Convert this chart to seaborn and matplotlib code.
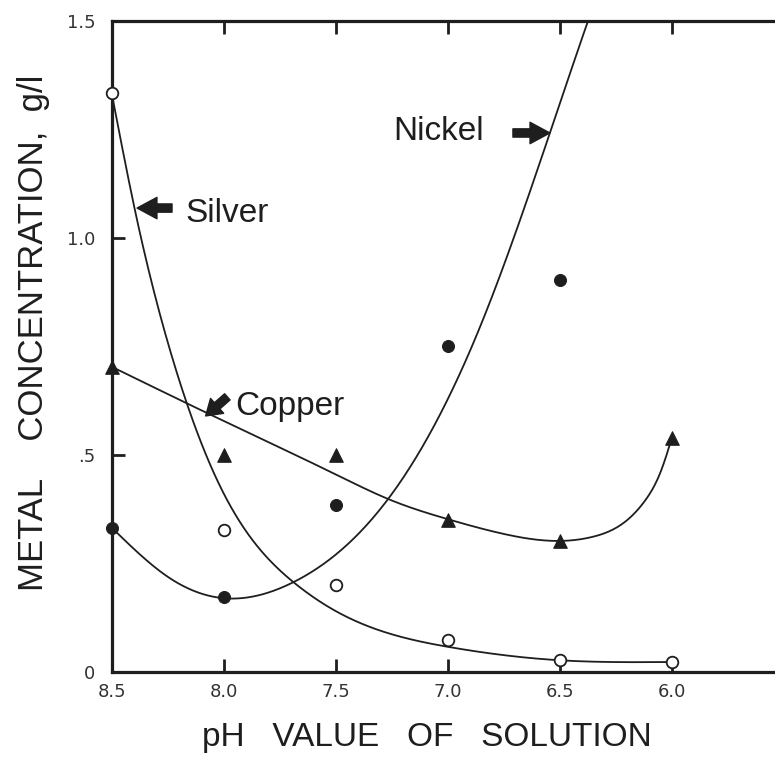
import numpy as np
import pandas as pd
import seaborn as sns
import matplotlib
matplotlib.use("Agg")
import matplotlib.pyplot as plt

# measured points (pH, g/l)
ph_pts = [8.5, 8.0, 7.5, 7.0, 6.5, 6.0]
silver_pts = [1.335, 0.327, 0.20, 0.074, 0.028, 0.023]
nickel_ph = [8.5, 8.0, 7.5, 7.0, 6.5]
nickel_pts = [0.332, 0.173, 0.385, 0.751, 0.903]
copper_pts = [0.703, 0.50, 0.50, 0.35, 0.302, 0.54]

# hand drawn curves
silver_curve_ph = [8.5, 8.4, 8.24, 8.0, 7.69, 7.5, 7.0, 6.5, 6.0]
silver_curve = [1.33, 1.07, 0.74, 0.41, 0.207, 0.14, 0.058, 0.027, 0.023]
nickel_curve_ph = [8.5, 8.25, 8.0, 7.69, 7.28, 6.857, 6.545, 6.375, 6.3]
nickel_curve = [0.332, 0.219, 0.17, 0.207, 0.39, 0.795, 1.242, 1.5, 1.61]
copper_curve_ph = [8.5, 8.0, 7.5, 7.25, 7.0, 6.75, 6.5, 6.35, 6.22, 6.12, 6.05, 6.0]
copper_curve = [0.703, 0.578, 0.455, 0.395, 0.352, 0.318, 0.302, 0.312, 0.342, 0.395, 0.462, 0.54]

x_ticks = [8.5, 8.0, 7.5, 7.0, 6.5, 6.0]
x_ticklabels = ["8.5", "8.0", "7.5", "7.0", "6.5", "6.0"]
y_ticks = [0, 0.5, 1.0, 1.5]
y_ticklabels = ["0", ".5", "1.0", "1.5"]


def spline(x, y, xn):
    # natural cubic spline through the traced knots
    x, y = np.asarray(x, float), np.asarray(y, float)
    o = np.argsort(x)
    x, y = x[o], y[o]
    n = len(x)
    h = np.diff(x)
    A = np.zeros((n, n))
    r = np.zeros(n)
    A[0, 0] = A[-1, -1] = 1
    for i in range(1, n - 1):
        A[i, i - 1], A[i, i], A[i, i + 1] = h[i - 1], 2 * (h[i - 1] + h[i]), h[i]
        r[i] = 3 * ((y[i + 1] - y[i]) / h[i] - (y[i] - y[i - 1]) / h[i - 1])
    c = np.linalg.solve(A, r)
    b = np.diff(y) / h - h * (2 * c[:-1] + c[1:]) / 3
    d = np.diff(c) / (3 * h)
    i = np.clip(np.searchsorted(x, xn) - 1, 0, n - 2)
    dx = xn - x[i]
    return y[i] + b[i] * dx + c[i] * dx**2 + d[i] * dx**3


def smooth(px, py):
    xs = np.linspace(min(px), max(px), 400)
    return pd.DataFrame({"ph": xs, "conc": spline(px, py, xs)})


sns.set_theme(style="ticks")
plt.rcParams["font.family"] = ["Liberation Sans", "DejaVu Sans"]

fig = plt.figure(figsize=(7.75, 7.57), dpi=100)
ax = fig.add_axes([112 / 775, 85 / 757, 676 / 775, 651 / 757])

ink = "#1e1e1e"
for px, py in [(silver_curve_ph, silver_curve), (nickel_curve_ph, nickel_curve),
               (copper_curve_ph, copper_curve)]:
    sns.lineplot(data=smooth(px, py), x="ph", y="conc", sort=False, color=ink,
                 lw=1.3, ax=ax)

sns.scatterplot(x=ph_pts, y=silver_pts, marker="o", s=70, facecolor="white",
                edgecolor=ink, linewidth=1.3, ax=ax, zorder=5, clip_on=False)
sns.scatterplot(x=nickel_ph, y=nickel_pts, marker="o", s=75, color=ink,
                edgecolor=ink, ax=ax, zorder=5, clip_on=False)
sns.scatterplot(x=ph_pts, y=copper_pts, marker="^", s=95, color=ink,
                edgecolor=ink, ax=ax, zorder=5, clip_on=False)

ax.set_xlim(8.5, 5.482)
ax.set_ylim(0, 1.5)

for s in ax.spines.values():
    s.set_linewidth(2.3)
    s.set_color(ink)
    s.set_zorder(1)

ax.set_xticks(x_ticks, x_ticklabels)
ax.set_yticks(y_ticks, y_ticklabels)
ax.tick_params(direction="in", length=9.5, width=2, color=ink, top=True, right=True,
               labelsize=13, labelcolor="#333333")
ax.tick_params(axis="x", pad=8)
ax.tick_params(axis="y", pad=12)
for lab in ax.get_xticklabels() + ax.get_yticklabels():
    lab.set_fontfamily("DejaVu Sans")

ax.set_xlabel("pH   VALUE   OF   SOLUTION", fontsize=24, color=ink)
ax.xaxis.set_label_coords((425 - 112) / 672, -0.077)
ax.set_ylabel("METAL    CONCENTRATION,  g/l", fontsize=25, color=ink)
ax.yaxis.set_label_coords(-0.092, (672 - 333) / 651)

arrow = dict(arrowstyle="simple,head_length=0.65,head_width=0.7,tail_width=0.27",
             fc=ink, ec=ink, mutation_scale=22, shrinkA=0, shrinkB=0)
short_arrow = dict(arrowstyle="simple,head_length=0.5,head_width=0.65,tail_width=0.27",
                   fc=ink, ec=ink, mutation_scale=22, shrinkA=0, shrinkB=0)
ax.annotate("", xy=(8.388, 1.069), xytext=(8.232, 1.069), arrowprops=arrow)
ax.text(8.174, 1.037, "Silver", fontsize=24, color=ink, va="baseline", ha="left")
ax.annotate("", xy=(6.545, 1.242), xytext=(6.71, 1.242), arrowprops=arrow)
ax.text(7.246, 1.226, "Nickel", fontsize=24, color=ink, va="baseline", ha="left")
ax.annotate("", xy=(8.082, 0.590), xytext=(7.985, 0.634), arrowprops=short_arrow)
ax.text(7.951, 0.592, "Copper", fontsize=24, color=ink, va="baseline", ha="left")

fig.savefig("out.png", dpi=100)
